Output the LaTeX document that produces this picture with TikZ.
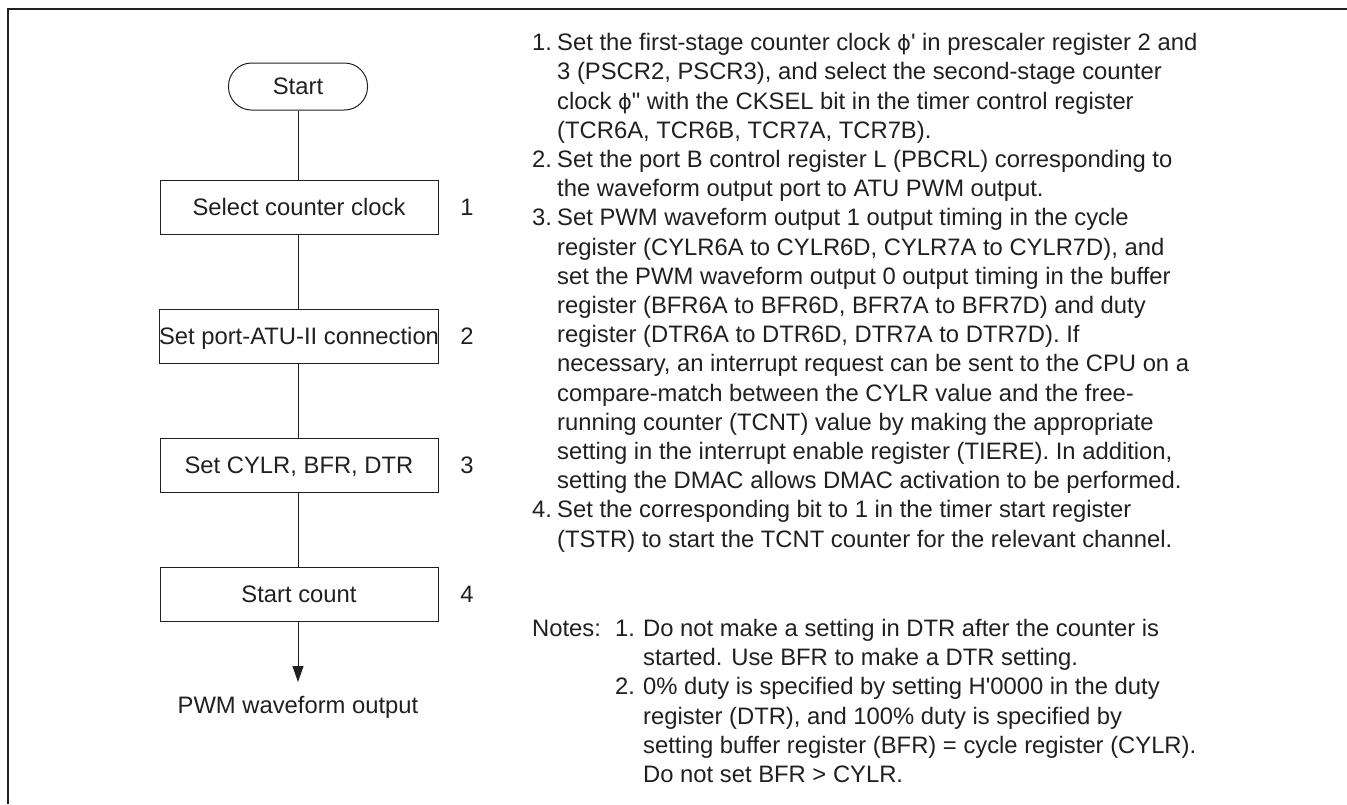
\documentclass[tikz,border=0pt]{standalone}
\usepackage{fontspec}
\setmainfont{Liberation Sans}
\newfontfamily\phifont{DejaVu Sans}
\usetikzlibrary{arrows.meta}
\definecolor{ink}{HTML}{231F20}
\newcommand\itemline[3]{\node[tl] (#1) at (557,{50.7+29.2*#2}) {#3};}
\newcommand\noteline[3]{\node[tl] (#1) at (643,{636.5+29.2*#2}) {#3};}
\newcommand\phisym{{\phifont\fontsize{21}{29.2}\selectfont ϕ}}
\begin{document}
\begin{tikzpicture}[x=1pt,y=-1pt,
  every node/.style={font=\fontsize{23.8}{29.2}\selectfont, text=ink},
  tl/.style={anchor=base west, inner sep=0pt},
  procbox/.style={draw=ink, line width=1pt, minimum width=278pt, minimum height=54pt,
    text height=16.5pt, text depth=0pt, inner sep=0pt},
  termbox/.style={draw=ink, line width=1pt, rounded corners=23pt, minimum width=139pt,
    minimum height=47pt, text height=16.5pt, text depth=0pt, inner sep=0pt},
  flow/.style={draw=ink, line width=1pt},
  numlbl/.style={text height=16.5pt, text depth=0pt, inner sep=0pt}]
\useasboundingbox (0,0) rectangle (1347,804);
% frame
\draw[ink, line width=2pt] (8,804) -- (8,9) -- (1347,9);
% flowchart
\node[termbox] (start) at (298,86.5) {Start};
\node[procbox] (b1) at (299,207) {Select counter clock};
\node[procbox] (b2) at (299,336) {Set port-ATU-II connection};
\node[procbox] (b3) at (299,465) {Set CYLR, BFR, DTR};
\node[procbox] (b4) at (299,594) {Start count};
\node[numlbl] (n1) at (467,207) {1};
\node[numlbl] (n2) at (467,336) {2};
\node[numlbl] (n3) at (467,465) {3};
\node[numlbl] (n4) at (467,594) {4};
\coordinate (tip) at (298,682);
\node[anchor=base, inner sep=0pt] (out) at (298,713) {PWM waveform output};
\draw[flow] (start.south) -- (start.south |- b1.north);
\draw[flow] (b1.south -| start.south) -- (b2.north -| start.south);
\draw[flow] (b2.south -| start.south) -- (b3.north -| start.south);
\draw[flow] (b3.south -| start.south) -- (b4.north -| start.south);
\draw[flow, -{Triangle[length=16pt,width=11pt]}] (b4.south -| start.south) -- (tip);
% numbered text
\node[tl] (i1) at (532,50.7) {1.};
\node[tl] (i2) at (532,{50.7+29.2*4}) {2.};
\node[tl] (i3) at (532,{50.7+29.2*6}) {3.};
\node[tl] (i4) at (532,{50.7+29.2*16}) {4.};
\itemline{l0}{0}{Set the first-stage counter clock \phisym\textquotesingle{} in prescaler register 2 and}
\itemline{l1}{1}{3 (PSCR2, PSCR3), and select the second-stage counter}
\itemline{l2}{2}{clock \phisym\textquotedbl{} with the CKSEL bit in the timer control register}
\itemline{l3}{3}{(TCR6A, TCR6B, TCR7A, TCR7B).}
\itemline{l4}{4}{Set the port B control register L (PBCRL) corresponding to}
\itemline{l5}{5}{the waveform output port to ATU PWM output.}
\itemline{l6}{6}{Set PWM waveform output 1 output timing in the cycle}
\itemline{l7}{7}{register (CYLR6A to CYLR6D, CYLR7A to CYLR7D), and}
\itemline{l8}{8}{set the PWM waveform output 0 output timing in the buffer}
\itemline{l9}{9}{register (BFR6A to BFR6D, BFR7A to BFR7D) and duty}
\itemline{l10}{10}{register (DTR6A to DTR6D, DTR7A to DTR7D). If}
\itemline{l11}{11}{necessary, an interrupt request can be sent to the CPU on a}
\itemline{l12}{12}{compare-match between the CYLR value and the free-}
\itemline{l13}{13}{running counter (TCNT) value by making the appropriate}
\itemline{l14}{14}{setting in the interrupt enable register (TIERE). In addition,}
\itemline{l15}{15}{setting the DMAC allows DMAC activation to be performed.}
\itemline{l16}{16}{Set the corresponding bit to 1 in the timer start register}
\itemline{l17}{17}{(TSTR) to start the TCNT counter for the relevant channel.}
% notes
\node[tl] (notes) at (532,636.5) {Notes:};
\node[tl] (nn1) at (615,636.5) {1.};
\node[tl] (nn2) at (615,{636.5+29.2*2}) {2.};
\noteline{m0}{0}{Do not make a setting in DTR after the counter is}
\noteline{m1}{1}{started. Use BFR to make a DTR setting.}
\noteline{m2}{2}{0\% duty is specified by setting H\textquotesingle 0000 in the duty}
\noteline{m3}{3}{register (DTR), and 100\% duty is specified by}
\noteline{m4}{4}{setting buffer register (BFR) = cycle register (CYLR).}
\noteline{m5}{5}{Do not set BFR > CYLR.}
\end{tikzpicture}
\end{document}
